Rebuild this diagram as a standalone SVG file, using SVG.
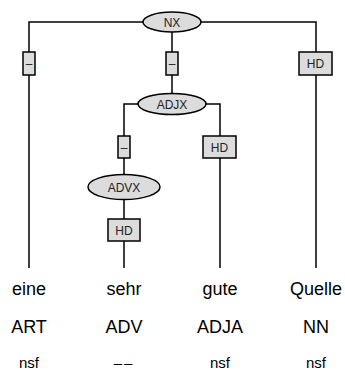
<svg xmlns="http://www.w3.org/2000/svg" width="345" height="377" viewBox="0 0 345 377">
<style>
.ln{stroke:#000;stroke-width:1.5;fill:none}
.nd{fill:#dcdcdc;stroke:#000;stroke-width:1.5}
.lb{font-family:"Liberation Sans",Arial,sans-serif;font-size:12px;fill:#222;text-anchor:middle}
.w{font-family:"Liberation Sans",Arial,sans-serif;font-size:18px;fill:#000;text-anchor:middle}
.s{font-family:"Liberation Sans",Arial,sans-serif;font-size:15px;fill:#000;text-anchor:middle}
</style>
<rect width="345" height="377" fill="#fff"/>
<g id="connectors">
<path class="ln" d="M29,268 V22 H316 V268"/>
<path class="ln" d="M172,22 V104"/>
<path class="ln" d="M124,268 V104 H220 V268"/>
</g>
<g id="NX"><ellipse class="nd" cx="172" cy="22" rx="29" ry="10"/><text class="lb" x="172" y="26.5">NX</text></g>
<g id="e1"><rect class="nd" x="23" y="52" width="12" height="23"/><text class="lb" x="29" y="67.5">–</text></g>
<g id="e2"><rect class="nd" x="166" y="52" width="12" height="23"/><text class="lb" x="172" y="67.5">–</text></g>
<g id="e3"><rect class="nd" x="299" y="52" width="33" height="23"/><text class="lb" x="315.5" y="68">HD</text></g>
<g id="ADJX"><ellipse class="nd" cx="172" cy="104" rx="34" ry="10.5"/><text class="lb" x="172" y="108.5">ADJX</text></g>
<g id="e4"><rect class="nd" x="118" y="136" width="12" height="22"/><text class="lb" x="124" y="151.5">–</text></g>
<g id="e5"><rect class="nd" x="203" y="136" width="33" height="22"/><text class="lb" x="219.5" y="151.5">HD</text></g>
<g id="ADVX"><ellipse class="nd" cx="124" cy="187" rx="36" ry="12.5"/><text class="lb" x="124" y="191.5">ADVX</text></g>
<g id="e6"><rect class="nd" x="108" y="219" width="32" height="22"/><text class="lb" x="124" y="234.5">HD</text></g>
<g id="t1"><text class="w" x="29" y="295">eine</text><text class="w" x="29" y="333">ART</text><text class="s" x="29" y="368">nsf</text></g>
<g id="t2"><text class="w" x="124" y="295">sehr</text><text class="w" x="124" y="333">ADV</text><text class="s" x="124" y="368" letter-spacing="2">––</text></g>
<g id="t3"><text class="w" x="220" y="295">gute</text><text class="w" x="220" y="333">ADJA</text><text class="s" x="220" y="368">nsf</text></g>
<g id="t4"><text class="w" x="316" y="295">Quelle</text><text class="w" x="316" y="333">NN</text><text class="s" x="316" y="368">nsf</text></g>
</svg>
